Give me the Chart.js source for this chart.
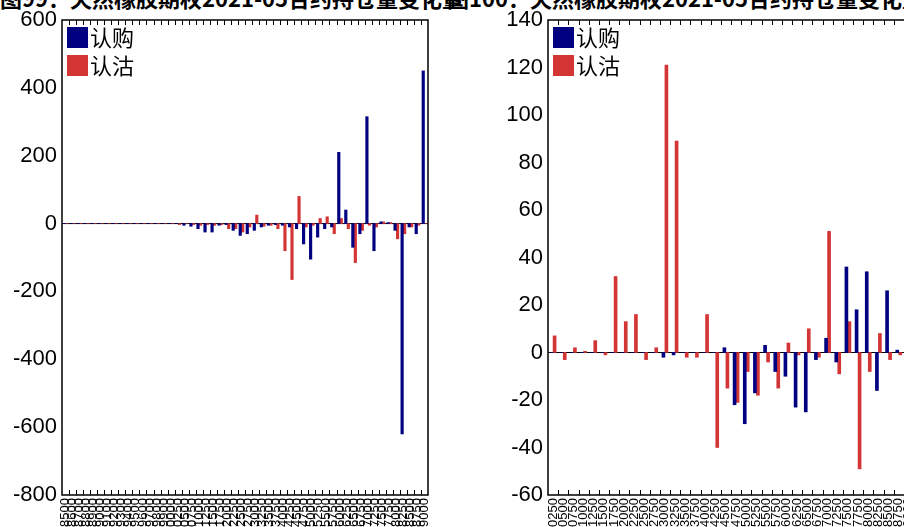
<!DOCTYPE html>
<html>
<head>
<meta charset="utf-8">
<script src="https://cdn.jsdelivr.net/npm/chart.js@4.4.0/dist/chart.umd.min.js"></script>
<style>
    html, body { margin: 0; padding: 0; background: #fff; overflow: hidden; width: 904px; height: 527px; }
    .title { position: absolute; top: -14px; font: bold 22px "Noto Sans CJK SC", sans-serif; line-height: 22px; white-space: nowrap; color: #000; }
    canvas { position: absolute; top: 0; }
</style>
</head>
<body>
<div class="title" style="left:0">图99：天然橡胶期权2021-05合约持仓量变化量</div>
<div class="title" style="left:447px">图100：天然橡胶期权2021-05合约持仓量变化量</div>
<canvas id="leftChart" width="445" height="560" style="left:0;width:445px;height:560px"></canvas>
<canvas id="rightChart" width="470" height="560" style="left:460px;width:470px;height:560px"></canvas>
<script>
// left chart: strikes 8500..19000
const leftStrikes = ['8500', '8600', '8700', '8800', '8900', '9000', '9100', '9200', '9300', '9400',
    '9500', '9600', '9700', '9800', '9900', '10000',
    '10250', '10500', '10750', '11000', '11250', '11500', '11750', '12000', '12250', '12500',
    '12750', '13000', '13250', '13500', '13750', '14000', '14250', '14500', '14750', '15000',
    '15250', '15500', '15750', '16000', '16250', '16500', '16750', '17000', '17250', '17500',
    '17750', '18000', '18250', '18500', '18750', '19000'];
const leftCall = [0, 0, 0, 0, 0, 0, 0, 0, 0, 0, 0, 0, 0, 0, 0, 0,
    0, -5, -8, -15, -25, -25, -5, -3, -20, -35,
    -30, -20, -10, -5, -3, -5, -10, -15, -60, -105,
    -40, -15, -10, 210, 40, -70, -30, 315, -80, 5,
    3, -20, -620, -10, -30, 450];
const leftPut = [0, 0, 0, 0, 0, 0, 0, 0, 0, 0, 0, 0, 0, 0, 0, 0,
    -3, 0, -3, -5, -3, -5, -3, -15, -15, -25,
    -10, 25, -8, -5, -15, -80, -165, 80, -10, -5,
    15, 20, -30, 15, -15, -115, -20, -5, -10, 5,
    3, -45, -30, -10, -5, 0];

// right chart: strikes 10250..19000
const rightStrikes = ['10250', '10500', '10750', '11000', '11250', '11500', '11750', '12000', '12250', '12500',
    '12750', '13000', '13250', '13500', '13750', '14000', '14250', '14500', '14750', '15000',
    '15250', '15500', '15750', '16000', '16250', '16500', '16750', '17000', '17250', '17500',
    '17750', '18000', '18250', '18500', '18750', '19000'];
const rightCall = [0, 0, 0, 0, 0, 0, 0, 0, 0, 0,
    0, -2, -1, 0, 0, 0, 0, 2, -22, -30,
    -17, 3, -8, -10, -23, -25, -3, 6, -4, 36,
    18, 34, -16, 26, 1, 49];
const rightPut = [7, -3, 2, 0.5, 5, -1, 32, 13, 16, -3,
    2, 121, 89, -2, -2, 16, -40, -15, -21, -8,
    -18, -4, -15, 4, -1, 10, -2, 51, -9, 13,
    -49, -8, 8, -3, -1, 0];

const callColor = '#000080';
const putColor = '#D33535';

// frame, zero line, inward ticks and legend inside the plot
const framePlugin = {
    id: 'frame',
    beforeDatasetsDraw(chart) {
        const { ctx, chartArea } = chart;
        const y0 = chart.scales.y.getPixelForValue(0);
        ctx.save();
        ctx.strokeStyle = '#000';
        ctx.lineWidth = 1;
        ctx.beginPath();
        ctx.moveTo(chartArea.left, y0);
        ctx.lineTo(chartArea.right, y0);
        ctx.stroke();
        ctx.restore();
    },
    afterDraw(chart) {
        const { ctx, chartArea } = chart;
        const n = chart.data.labels.length;
        const pitch = (chartArea.right - chartArea.left) / n;
        ctx.save();
        ctx.strokeStyle = '#000';
        ctx.lineWidth = 1;
        ctx.beginPath();
        for (let i = 1; i < n; i++) {
            const x = Math.round(chartArea.left + i * pitch) + 0.5;
            ctx.moveTo(x, chartArea.top);
            ctx.lineTo(x, chartArea.top + 5);
            ctx.moveTo(x, chartArea.bottom);
            ctx.lineTo(x, chartArea.bottom - 5);
        }
        ctx.stroke();
        ctx.lineWidth = 1.5;
        ctx.strokeRect(chartArea.left, chartArea.top, chartArea.right - chartArea.left, chartArea.bottom - chartArea.top);

        chart.data.datasets.forEach((ds, k) => {
            const y = chartArea.top + 7 + k * 28;
            ctx.fillStyle = ds.backgroundColor;
            ctx.fillRect(chartArea.left + 5, y, 21, 21);
            ctx.fillStyle = '#000';
            ctx.font = '22px "Noto Sans CJK SC", sans-serif';
            ctx.textBaseline = 'middle';
            ctx.textAlign = 'left';
            ctx.fillText(ds.label, chartArea.left + 28, y + 11);
        });
        ctx.restore();
    }
};

function makeChart(canvasId, labels, calls, puts, yMin, yMax, step, axisWidth, padRight, barW) {
    const ctx = document.getElementById(canvasId).getContext('2d');
    return new Chart(ctx, {
        type: 'bar',
        data: {
            labels: labels,
            datasets: [
                { label: '认购', data: calls, backgroundColor: callColor, barThickness: barW },
                { label: '认沽', data: puts, backgroundColor: putColor, barThickness: barW }
            ]
        },
        options: {
            responsive: false,
            animation: false,
            devicePixelRatio: 1,
            layout: { autoPadding: false, padding: { top: 20, right: padRight, left: 0, bottom: 0 } },
            plugins: { legend: { display: false }, tooltip: { enabled: false } },
            scales: {
                x: {
                    grid: { display: false, drawTicks: false },
                    border: { display: false },
                    ticks: {
                        autoSkip: false,
                        minRotation: 90,
                        maxRotation: 90,
                        padding: 3,
                        color: '#000',
                        font: { family: '"Liberation Sans", Arial, sans-serif', size: 13 }
                    },
                    afterFit(scale) { scale.height = 65; }
                },
                y: {
                    min: yMin,
                    max: yMax,
                    grid: { display: false, drawTicks: false },
                    border: { display: false },
                    ticks: {
                        stepSize: step,
                        padding: 5,
                        color: '#000',
                        font: { family: '"Liberation Sans", Arial, sans-serif', size: 22 }
                    },
                    afterFit(scale) { scale.width = axisWidth; }
                }
            }
        },
        plugins: [framePlugin]
    });
}

makeChart('leftChart', leftStrikes, leftCall, leftPut, -800, 600, 200, 62, 17, 2.5);
makeChart('rightChart', rightStrikes, rightCall, rightPut, -60, 140, 20, 88, 16, 3);
</script>
</body>
</html>
